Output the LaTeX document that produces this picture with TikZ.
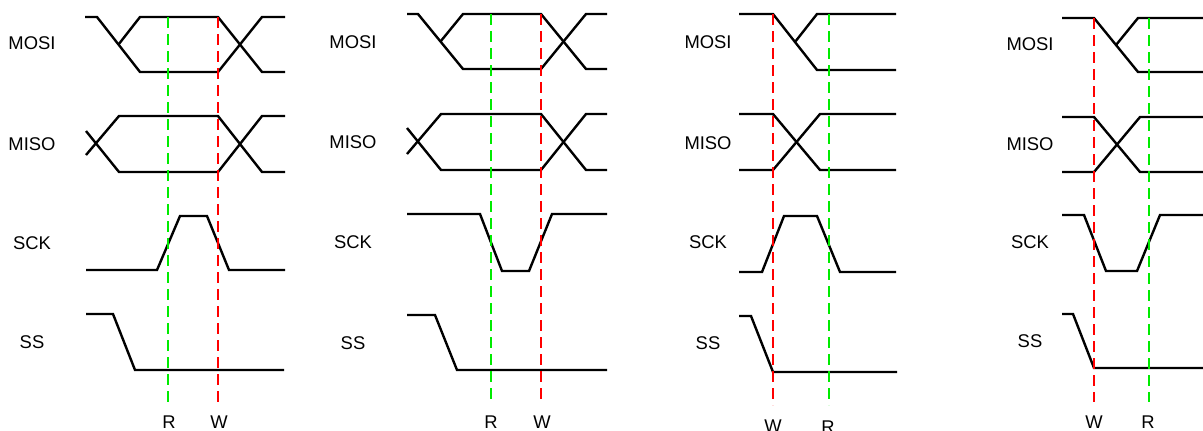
\documentclass[tikz,border=0pt]{standalone}
\usepackage{fontspec}
\setmainfont{Liberation Sans}
\definecolor{brightgreen}{RGB}{0,235,0}
\begin{document}
\begin{tikzpicture}[x=0.5pt,y=-0.5pt,
  sig/.style={line width=1.2pt,line join=miter,black},
  rline/.style={line width=1pt,dash pattern=on 5.5pt off 3pt,red},
  gline/.style={line width=1pt,dash pattern=on 5.5pt off 3pt,brightgreen},
  lbl/.style={font=\fontsize{9.2pt}{11pt}\selectfont,inner sep=0pt}]
\useasboundingbox (0,0) rectangle (1203,430);
% ---------- Panel 1 ----------
\node[lbl] (l1a) at (32,43) {MOSI};
\node[lbl] (l1b) at (32,144) {MISO};
\node[lbl] (l1c) at (32,243) {SCK};
\node[lbl] (l1d) at (32,342) {SS};
\draw[sig] (85,17)--(97,17)--(140,72)--(218,72)--(262,17)--(285,17);
\draw[sig] (118.5,44.5)--(140,17)--(218,17)--(262,72)--(285,72);
\draw[sig] (86,131)--(119,172)--(218,172)--(262,116)--(285,116);
\draw[sig] (86,155)--(119,116)--(218,116)--(262,172)--(285,172);
\draw[sig] (86,270)--(157,270)--(180,216)--(207,216)--(229,270)--(285,270);
\draw[sig] (86,314)--(113,314)--(135,370)--(284,370);
\coordinate (g1t) at (168,17); \coordinate (g1b) at (168,402);
\coordinate (r1t) at (218,17); \coordinate (r1b) at (218,402);
\draw[gline] (g1t)--(g1b);
\draw[rline] (r1t)--(r1b);
\node[lbl] (R1) at (169,422) {R};
\node[lbl] (W1) at (219,422) {W};
% ---------- Panel 2 ----------
\node[lbl] (l2a) at (353,42) {MOSI};
\node[lbl] (l2b) at (353,142) {MISO};
\node[lbl] (l2c) at (353,242) {SCK};
\node[lbl] (l2d) at (353,343) {SS};
\draw[sig] (407,14)--(418,14)--(463,69)--(541,69)--(586,14)--(607,14);
\draw[sig] (440.5,41.5)--(463,14)--(541,14)--(586,69)--(607,69);
\draw[sig] (407,128)--(441,170)--(541,170)--(586,114)--(607,114);
\draw[sig] (407,154)--(441,114)--(541,114)--(586,170)--(607,170);
\draw[sig] (407,214)--(480,214)--(502,271)--(529,271)--(552,214)--(607,214);
\draw[sig] (407,315)--(435,315)--(457,370)--(607,370);
\coordinate (g2t) at (491,14); \coordinate (g2b) at (491,402);
\coordinate (r2t) at (541,14); \coordinate (r2b) at (541,402);
\draw[gline] (g2t)--(g2b);
\draw[rline] (r2t)--(r2b);
\node[lbl] (R2) at (491,422) {R};
\node[lbl] (W2) at (542,422) {W};
% ---------- Panel 3 ----------
\node[lbl] (l3a) at (708,42) {MOSI};
\node[lbl] (l3b) at (708,143) {MISO};
\node[lbl] (l3c) at (708,242) {SCK};
\node[lbl] (l3d) at (708,343) {SS};
\draw[sig] (739,14)--(773,14)--(817,70)--(896,70);
\draw[sig] (795,42)--(817,14)--(896,14);
\draw[sig] (739,114)--(773,114)--(820,170)--(896,170);
\draw[sig] (739,170)--(773,170)--(820,114)--(896,114);
\draw[sig] (739,272)--(762,272)--(784,216)--(817,216)--(840,272)--(896,272);
\draw[sig] (739,316)--(751,316)--(773,372)--(897,372);
\coordinate (r3t) at (773,14); \coordinate (r3b) at (773,405);
\coordinate (g3t) at (829,14); \coordinate (g3b) at (829,405);
\draw[rline] (r3t)--(r3b);
\draw[gline] (g3t)--(g3b);
\node[lbl] (W3) at (773,426) {W};
\node[lbl] (R3) at (828,427) {R};
% ---------- Panel 4 ----------
\node[lbl] (l4a) at (1030,44) {MOSI};
\node[lbl] (l4b) at (1030,144) {MISO};
\node[lbl] (l4c) at (1030,242) {SCK};
\node[lbl] (l4d) at (1030,341) {SS};
\draw[sig] (1062,18)--(1094,18)--(1138,72)--(1203,72);
\draw[sig] (1116,45)--(1138,18)--(1203,18);
\draw[sig] (1062,117)--(1094,117)--(1140,172)--(1203,172);
\draw[sig] (1062,172)--(1094,172)--(1140,117)--(1203,117);
\draw[sig] (1062,215)--(1084,215)--(1106,271)--(1137,271)--(1160,215)--(1203,215);
\draw[sig] (1062,314)--(1073,314)--(1094,368)--(1203,368);
\coordinate (r4t) at (1094,18); \coordinate (r4b) at (1094,402);
\coordinate (g4t) at (1149,18); \coordinate (g4b) at (1149,402);
\draw[rline] (r4t)--(r4b);
\draw[gline] (g4t)--(g4b);
\node[lbl] (W4) at (1094,422) {W};
\node[lbl] (R4) at (1148,422) {R};
\end{tikzpicture}
\end{document}
